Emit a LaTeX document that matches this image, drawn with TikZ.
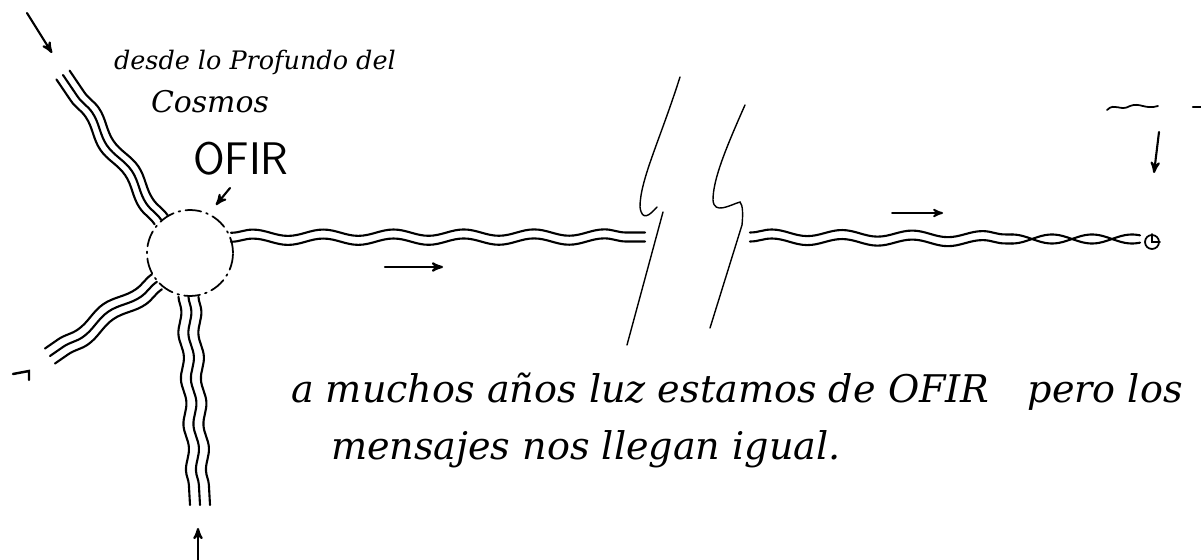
\documentclass[tikz,border=0pt]{standalone}
\usepackage{fontspec}
\setmainfont{DejaVu Serif}
\usetikzlibrary{arrows,decorations.pathmorphing,calc}

\begin{document}
\begin{tikzpicture}[x=0.02cm, y=-0.02cm, >=stealth', line width=1.2pt, line cap=round,
    wave/.style={decorate, decoration={snake, segment length=40pt, amplitude=1.8pt}},
    vwave/.style={decorate, decoration={snake, segment length=26pt, amplitude=1.2pt}},
    hand/.style={font=\itshape\fontsize{14.5}{18}\selectfont, inner sep=0pt, anchor=base west},
    note/.style={font=\itshape\fontsize{21.7}{26}\selectfont, inner sep=0pt, anchor=base west},
    capname/.style={font=\sffamily\fontsize{26}{30}\selectfont, inner sep=0pt, anchor=base west},
    breakline/.style={line width=0.8pt}]
    \useasboundingbox (0,0) rectangle (1201,560);

    % Nodes {ofir, dest}
    \node [draw, circle, minimum size=1.72cm, line width=1pt,
           dash pattern=on 9pt off 3pt on 1pt off 3pt] (ofir) at (190,253) {};
    \node [draw, circle, minimum size=0.28cm, inner sep=0pt, line width=1pt] (dest) at (1152,242) {};
    \draw [line width=1pt] (dest.north) -- (dest.center) -- (dest.east);

    % Labels
    \node [hand]    (title)  at (113,70)  {desde lo Profundo del};
    \node [hand, font=\itshape\fontsize{17}{20}\selectfont] (cosmos) at (150,113) {Cosmos};
    \node [capname] (name)   at (192,175) {OFIR};
    \node [note]    (line1)  at (290,403) {a muchos años luz estamos de OFIR\quad pero los};
    \node [note]    (line2)  at (330,460) {mensajes nos llegan igual.};

    % Free ends
    \coordinate (ulEnd)  at (63,75);
    \coordinate (llEnd)  at (50,356);
    \coordinate (dnEnd)  at (200,505);
    \coordinate (gapL)   at (645,237);
    \coordinate (gapR)   at (750,237);
    \coordinate (twist)  at (1012,239);

    % Rays
    \foreach \dx/\dy in {-6.6/4.4, 0/0, 6.6/-4.4}
        \draw [wave] ([shift={(\dx,\dy)}]ofir.131) -- ([shift={(\dx,\dy)}]ulEnd);
    \foreach \dx/\dy in {-5/-7.5, 0/0, 5/7.5}
        \draw [wave] ([shift={(\dx,\dy)}]ofir.221) -- ([shift={(\dx,\dy)}]llEnd);
    \foreach \dx in {-10, 0, 10}
        \draw [vwave] ([shift={(\dx,0)}]ofir.268) -- ([shift={(\dx,0)}]dnEnd);
    \foreach \dy in {-4.5, 4.5}
        \draw [wave] ([shift={(0,\dy)}]ofir.21) -- ([shift={(0,\dy)}]gapL);
    \foreach \dy in {-4.5, 4.5}
        \draw [wave] ([shift={(0,\dy)}]gapR) -- ([shift={(0,\dy)}]twist);
    \draw plot [domain=1012:1140, samples=60, smooth] (\x, {239-4.5*cos(4.5*(\x-1012))});
    \draw plot [domain=1012:1140, samples=60, smooth] (\x, {239+4.5*cos(4.5*(\x-1012))});

    % Break
    \draw [breakline] (680,77) .. controls (660,140) and (640,180) .. (640,207)
        .. controls (642,222) and (650,215) .. (657,207);
    \draw [breakline] (663,212) -- (627,345);
    \draw [breakline] (745,105) .. controls (725,150) and (713,180) .. (713,200)
        .. controls (714,215) and (730,205) .. (740,202)
        .. controls (743,205) and (743,215) .. (742,225) -- (710,328);

    % Arrows
    \coordinate (inS) at (27,13);    \coordinate (inE) at (52,53);
    \coordinate (ptS) at (230,188);  \coordinate (ptE) at (216,205);
    \coordinate (f1S) at (385,267);  \coordinate (f1E) at (443,267);
    \coordinate (f2S) at (892,213);  \coordinate (f2E) at (943,213);
    \coordinate (dwS) at (1159,132); \coordinate (dwE) at (1154,173);
    \coordinate (upS) at (198,560);  \coordinate (upE) at (198,528);
    \draw [->] (inS) -- (inE);
    \draw [->] (ptS) -- (ptE);
    \draw [->] (f1S) -- (f1E);
    \draw [->, line width=1pt] (f2S) -- (f2E);
    \draw [->] (dwS) -- (dwE);
    \draw [->] (upS) -- (upE);

    % Cut-off marks at the edges
    \draw [line width=1pt] (1107,110) .. controls (1115,102) and (1120,112) .. (1130,106)
        .. controls (1140,102) and (1145,110) .. (1158,106);
    \draw [line width=1.4pt] (1193,107) -- (1201,107);
    \draw [line width=1.4pt] (13,374) -- (29,371) -- (29,380);
\end{tikzpicture}
\end{document}
